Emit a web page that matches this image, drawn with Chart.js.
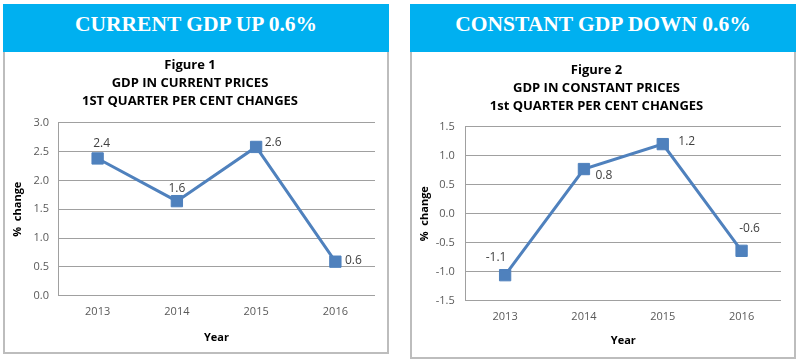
<!DOCTYPE html>
<html>
<head>
<meta charset="utf-8">
<script src="https://cdn.jsdelivr.net/npm/chart.js@4.4.1/dist/chart.umd.min.js"></script>
<style>
  body { margin: 0; width: 800px; height: 362px; background: #fff; position: relative; overflow: hidden; }
  .banner {
    position: absolute; top: 4px; width: 386px; height: 48px; overflow: hidden;
    background: #00b0f0; color: #fff; text-align: center;
    font: bold 21.5px "Liberation Serif", "Times New Roman", serif;
    line-height: 40px;
  }
  .box {
    position: absolute; top: 52px; width: 386px; box-sizing: border-box;
    border: 2px solid #bdbdbd; border-top: none;
  }
  canvas { position: absolute; }
</style>
</head>
<body>
<div class="banner" style="left:3px">CURRENT GDP UP 0.6%</div>
<div class="box" style="left:3px; height:302px"></div>
<canvas id="currentChart" width="382" height="299" style="left:5px; top:53px"></canvas>

<div class="banner" style="left:410px">CONSTANT GDP DOWN 0.6%</div>
<div class="box" style="left:410px; height:307px"></div>
<canvas id="constantChart" width="382" height="304" style="left:412px; top:53px"></canvas>

<script>
// GDP charts - two small line charts side by side
const years = ["2013", "2014", "2015", "2016"];

// Figure 1 - current prices, 1st quarter % change
const currentValues = [2.38, 1.64, 2.58, 0.59];
const currentTicks = [0.0, 0.5, 1.0, 1.5, 2.0, 2.5, 3.0];
const currentTitle = ["Figure 1", "GDP IN CURRENT PRICES", "1ST QUARTER PER CENT CHANGES"];

// Figure 2 - constant prices, 1st quarter % change
const constantValues = [-1.06, 0.77, 1.2, -0.64];
const constantTicks = [-1.5, -1.0, -0.5, 0.0, 0.5, 1.0, 1.5];
const constantTitle = ["Figure 2", "GDP IN CONSTANT PRICES", "1st QUARTER PER CENT CHANGES"];

Chart.defaults.font.family = "'Open Sans', 'Liberation Sans', sans-serif";

const LINE_BLUE = "#4f81bd";
const GRID_GREY = "#a0a0a0";

// Draws the value next to each marker, Excel style
const pointLabels = {
  id: "pointLabels",
  afterDatasetsDraw(chart, args, opts) {
    const ctx = chart.ctx;
    const meta = chart.getDatasetMeta(0);
    const values = chart.data.datasets[0].data;
    ctx.save();
    ctx.font = "12px 'Open Sans', sans-serif";
    ctx.fillStyle = "#404040";
    ctx.textAlign = "center";
    ctx.textBaseline = "middle";
    meta.data.forEach((pt, i) => {
      const off = opts.offsets[i] || [0, -14];
      ctx.fillText(values[i].toFixed(1), pt.x + off[0], pt.y + off[1]);
    });
    ctx.restore();
  },
};

function makeChart(id, values, ticks, titleLines, layout) {
  const el = document.getElementById(id);
  return new Chart(el.getContext("2d"), {
    type: "line",
    data: {
      labels: years,
      datasets: [
        {
          data: values,
          borderColor: LINE_BLUE,
          backgroundColor: LINE_BLUE,
          borderWidth: 3,
          tension: 0,
          pointStyle: "rect",
          pointRadius: 8,
          pointBorderWidth: 1,
          pointBackgroundColor: LINE_BLUE,
          pointBorderColor: LINE_BLUE,
        },
      ],
    },
    plugins: [pointLabels],
    options: {
      responsive: false,
      animation: false,
      layout: { padding: { right: layout.padRight } },
      plugins: {
        legend: { display: false },
        tooltip: { enabled: false },
        title: {
          display: true,
          text: titleLines,
          color: "#000",
          font: { size: 13, weight: "bold", lineHeight: 1.385 },
          padding: { top: layout.titleTop, bottom: layout.titleBottom },
        },
        pointLabels: { offsets: layout.labelOffsets },
      },
      scales: {
        x: {
          offset: true,
          afterFit(scale) {
            scale.height = layout.xHeight;
          },
          grid: { display: false, drawTicks: false },
          border: { display: false },
          ticks: { padding: 10, color: "#595959", font: { size: 11 } },
          title: {
            display: true,
            text: "Year",
            color: "#000",
            font: { size: 11, weight: "bold" },
            padding: { top: 0, bottom: layout.yearBottom },
          },
        },
        y: {
          min: ticks[0],
          max: ticks[ticks.length - 1],
          afterFit(scale) {
            scale.width = layout.yWidth;
          },
          grid: { color: GRID_GREY, drawTicks: false },
          border: { display: true, color: GRID_GREY },
          ticks: {
            stepSize: ticks[1] - ticks[0],
            padding: layout.tickPad,
            color: "#595959",
            font: { size: 11 },
            callback: (v) => Number(v).toFixed(1),
          },
          title: {
            display: true,
            text: "%  change",
            color: "#000",
            font: { size: 11, weight: "bold" },
            padding: { top: 6, bottom: 0 },
          },
        },
      },
    },
  });
}

makeChart("currentChart", currentValues, currentTicks, currentTitle, {
  titleTop: 3,
  titleBottom: 12.7,
  xHeight: 56.3,
  yearBottom: 8,
  yWidth: 53,
  tickPad: 9,
  padRight: 12,
  labelOffsets: [[4, -15], [0, -13], [17, -4], [18, -1]],
});

makeChart("constantChart", constantValues, constantTicks, constantTitle, {
  titleTop: 8,
  titleBottom: 11.7,
  xHeight: 56.3,
  yearBottom: 10,
  yWidth: 53.7,
  tickPad: 11,
  padRight: 13,
  labelOffsets: [[-9, -18], [20, 7], [24, -3], [8, -22]],
});
</script>
</body>
</html>
